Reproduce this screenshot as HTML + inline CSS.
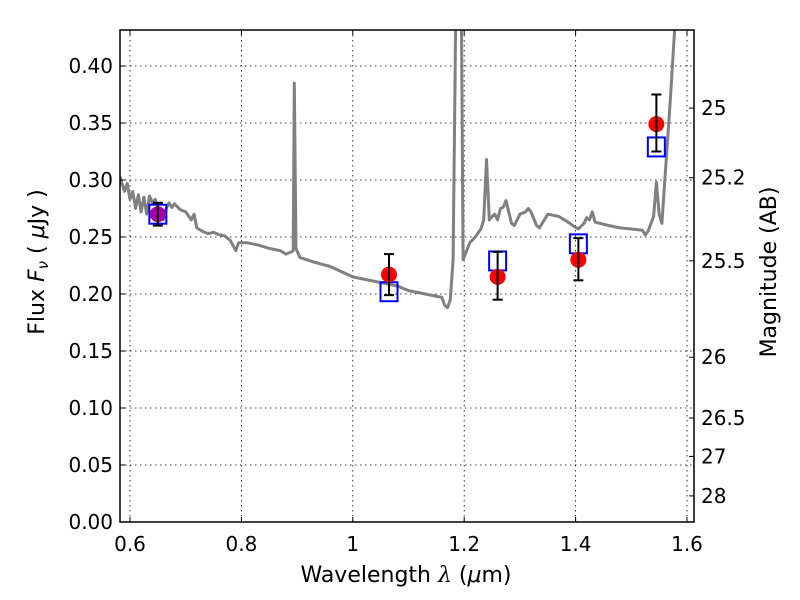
<!DOCTYPE html>
<html><head><meta charset="utf-8"><style>
body{margin:0;background:#fff;}
svg{display:block;font-family:"DejaVu Sans","Liberation Sans",sans-serif;}
</style></head><body>
<svg id="chart" width="800" height="600">
<g id="grid"></g>
<g id="spec"></g>
<g id="marks"></g>
<g id="axes"></g>
</svg>
<script>
const specWl=[0.582,0.59,0.595,0.60,0.605,0.61,0.615,0.62,0.625,0.63,0.635,0.64,0.645,0.655,0.66,0.665,0.67,0.675,0.68,0.69,0.70,0.71,0.715,0.72,0.73,0.74,0.75,0.76,0.77,0.78,0.79,0.795,0.81,0.83,0.85,0.87,0.88,0.89,0.893,0.895,0.898,0.905,0.93,0.96,1.0,1.05,1.08,1.10,1.13,1.16,1.165,1.17,1.175,1.18,1.185,1.195,1.198,1.21,1.22,1.23,1.235,1.24,1.245,1.25,1.255,1.26,1.265,1.27,1.275,1.285,1.29,1.30,1.31,1.315,1.32,1.33,1.335,1.35,1.37,1.39,1.395,1.405,1.415,1.42,1.425,1.43,1.435,1.46,1.48,1.50,1.52,1.525,1.53,1.54,1.545,1.55,1.555,1.57,1.58];
const specFlux=[0.303,0.29,0.297,0.283,0.29,0.275,0.287,0.272,0.285,0.27,0.286,0.28,0.283,0.27,0.265,0.275,0.28,0.276,0.279,0.274,0.272,0.265,0.27,0.258,0.255,0.253,0.254,0.252,0.251,0.247,0.238,0.245,0.245,0.243,0.240,0.238,0.235,0.237,0.238,0.385,0.24,0.232,0.228,0.224,0.215,0.210,0.207,0.203,0.200,0.197,0.19,0.188,0.195,0.23,0.45,0.45,0.23,0.245,0.25,0.257,0.265,0.318,0.265,0.268,0.27,0.265,0.275,0.276,0.282,0.262,0.26,0.270,0.272,0.275,0.272,0.260,0.258,0.27,0.268,0.262,0.26,0.257,0.262,0.267,0.265,0.272,0.263,0.26,0.258,0.257,0.256,0.252,0.255,0.268,0.298,0.27,0.262,0.37,0.45];
const obsWl=[1.065,1.26,1.405,1.545];
const obsFlux=[0.217,0.215,0.230,0.349];
const obsErrHi=[0.235,0.237,0.249,0.375];
const obsErrLo=[0.199,0.195,0.212,0.325];
const purpleWl=[0.65];
const purpleFlux=[0.270];
const purpleErrHi=[0.280];
const purpleErrLo=[0.260];
const modelWl=[0.65,1.065,1.26,1.405,1.545];
const modelFlux=[0.270,0.202,0.229,0.244,0.329];
const xTicks=[0.6,0.8,1.0,1.2,1.4,1.6];
const xTickLabels=["0.6","0.8","1","1.2","1.4","1.6"];
const yTicks=[0,0.05,0.1,0.15,0.2,0.25,0.3,0.35,0.4];
const yTickLabels=["0.00","0.05","0.10","0.15","0.20","0.25","0.30","0.35","0.40"];
const magTicks=[25,25.2,25.5,26,26.5,27,28];
const magTickLabels=["25","25.2","25.5","26","26.5","27","28"];

const L=120,R=694,T=30,B=522;
const X=w=>130+(w-0.6)*557;
const Y=f=>522-f*1140;
const NS="http://www.w3.org/2000/svg";
function mk(parent,tag,attrs){const e=document.createElementNS(NS,tag);for(const k in attrs)e.setAttribute(k,attrs[k]);parent.appendChild(e);return e;}
const grid=document.getElementById('grid'),spec=document.getElementById('spec'),marks=document.getElementById('marks'),axes=document.getElementById('axes');
const svg=document.getElementById('chart');
mk(svg,'defs',{}).innerHTML='<clipPath id="pc"><rect x="120" y="30" width="574" height="492"/></clipPath>';
spec.setAttribute('clip-path','url(#pc)');

xTicks.forEach((t,i)=>{
  const g=mk(grid,'line',{x1:X(t),x2:X(t),y1:T,y2:B,stroke:'#000','stroke-width':0.8,'stroke-dasharray':'1.5,3.5'});
  
  
  mk(axes,'line',{x1:X(t),x2:X(t),y1:B,y2:B-5,stroke:'#000'});
  mk(axes,'line',{x1:X(t),x2:X(t),y1:T,y2:T+5,stroke:'#000'});
  const tx=mk(axes,'text',{x:X(t),y:551,'text-anchor':'middle','font-size':20});
  tx.textContent=xTickLabels[i];
  
  
});
yTicks.forEach((t,i)=>{
  const g=mk(grid,'line',{x1:L,x2:R,y1:Y(t),y2:Y(t),stroke:'#000','stroke-width':0.8,'stroke-dasharray':'1.5,3.5'});
  
  
  mk(axes,'line',{x1:L,x2:L+5,y1:Y(t),y2:Y(t),stroke:'#000'});
  const tx=mk(axes,'text',{x:113,y:Y(t)+7,'text-anchor':'end','font-size':20});
  tx.textContent=yTickLabels[i];
  
  
});
magTicks.forEach((m,i)=>{
  const f=Math.pow(10,(23.9-m)/2.5);
  mk(axes,'line',{x1:R,x2:R-5,y1:Y(f),y2:Y(f),stroke:'#000'});
  const tx=mk(axes,'text',{x:701,y:Y(f)+7,'text-anchor':'start','font-size':20});
  tx.textContent=magTickLabels[i];
  
  
});

const pts=specWl.map((w,i)=>X(w).toFixed(1)+','+Y(specFlux[i]).toFixed(1)).join(' ');
const pl=mk(spec,'polyline',{points:pts,fill:'none',stroke:'#808080','stroke-width':3,'stroke-linejoin':'round'});



function errbar(w,lo,hi){
  const x=X(w);
  mk(marks,'line',{x1:x,x2:x,y1:Y(hi),y2:Y(lo),stroke:'#000','stroke-width':2});
  mk(marks,'line',{x1:x-5,x2:x+5,y1:Y(hi),y2:Y(hi),stroke:'#000','stroke-width':2});
  mk(marks,'line',{x1:x-5,x2:x+5,y1:Y(lo),y2:Y(lo),stroke:'#000','stroke-width':2});
}
modelWl.forEach((w,i)=>{
  const r=mk(marks,'rect',{x:X(w)-8.5,y:Y(modelFlux[i])-9.5,width:17,height:19,fill:'none',stroke:'#0000ff','stroke-width':2});
  
  
});
obsWl.forEach((w,i)=>{
  const c=mk(marks,'circle',{cx:X(w),cy:Y(obsFlux[i]),r:8,fill:'#ff0000'});
  
  
  errbar(w,obsErrLo[i],obsErrHi[i]);
});
purpleWl.forEach((w,i)=>{
  const c=mk(marks,'circle',{cx:X(w),cy:Y(purpleFlux[i]),r:8,fill:'#aa00aa'});
  
  
  errbar(w,purpleErrLo[i],purpleErrHi[i]);
});

const fr=mk(axes,'rect',{x:L,y:T,width:R-L,height:B-T,fill:'none',stroke:'#000','stroke-width':1.5});


const xl=mk(axes,'text',{x:406,y:582,'text-anchor':'middle','font-size':22});
xl.innerHTML='Wavelength  <tspan font-style="italic" font-family="DejaVu Serif, serif">λ</tspan> (<tspan font-style="italic">μ</tspan>m)';


const yl=mk(axes,'text',{x:0,y:0,'text-anchor':'middle','font-size':22,transform:'translate(44,262) rotate(-90)'});
yl.innerHTML='Flux  <tspan font-style="italic">F</tspan><tspan font-style="italic" font-size="15" dy="4">ν</tspan><tspan dy="-4">  ( </tspan><tspan font-style="italic">μ</tspan>Jy )';


const ml=mk(axes,'text',{x:0,y:0,'text-anchor':'middle','font-size':22,transform:'translate(776,272) rotate(-90)'});
ml.textContent='Magnitude (AB)';


</script>
</body></html>
